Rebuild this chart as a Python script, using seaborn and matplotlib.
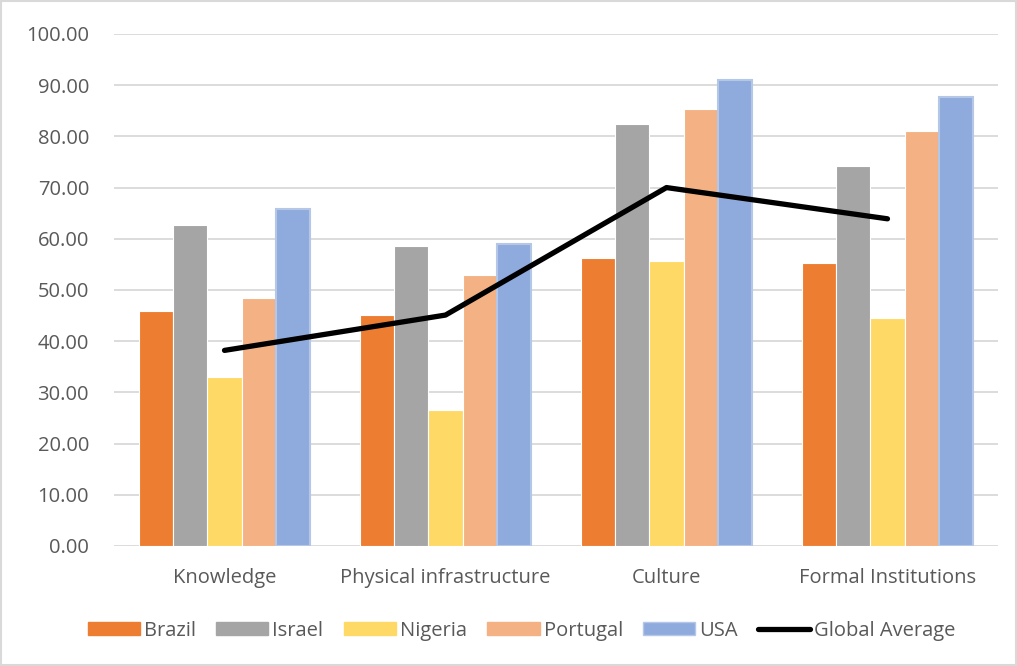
import numpy as np
import pandas as pd
import matplotlib
matplotlib.use("Agg")
import matplotlib.pyplot as plt
import matplotlib.ticker as mticker
from matplotlib.patches import Patch
from matplotlib.lines import Line2D
import seaborn as sns

# --- data ---
dimensions = ["Knowledge", "Physical infrastructure", "Culture", "Formal Institutions"]
countries = ["Brazil", "Israel", "Nigeria", "Portugal", "USA"]
brazil = [45.8, 45.1, 56.3, 55.3]
israel = [62.6, 58.6, 82.5, 74.2]
nigeria = [33.1, 26.5, 55.7, 44.6]
portugal = [48.4, 53.0, 85.4, 81.1]
usa = [65.8, 58.9, 91.1, 87.7]
global_avg = [38.2, 45.1, 70.0, 63.9]

palette = ["#ED7D31", "#A5A5A5", "#FFD966", "#F4B183", "#8FAADC"]
TEXT = "#595959"
GRID = "#D9D9D9"

sns.set_theme(style="white")
plt.rcParams["font.family"] = ["Open Sans", "DejaVu Sans"]

df = pd.DataFrame({
    "dimension": dimensions * len(countries),
    "country": np.repeat(countries, len(dimensions)),
    "score": brazil + israel + nigeria + portugal + usa,
})

fig = plt.figure(figsize=(10.17, 6.66), dpi=100)
ax = fig.add_axes([0.1121, 0.1802, 0.8692, 0.7688])

sns.barplot(data=df, x="dimension", y="score", hue="country", order=dimensions,
            hue_order=countries, palette=palette, width=0.77, gap=0,
            edgecolor="white", linewidth=0.8, saturation=1, legend=False, ax=ax)

# USA bars have a lighter blue outline
for container, name in zip(ax.containers, countries):
    if name == "USA":
        for bar in container:
            bar.set_edgecolor("#B4C7E7")
            bar.set_linewidth(1.5)

sns.pointplot(x=dimensions, y=global_avg, order=dimensions, color="black",
              markers="none", linewidth=3.8, ax=ax)
for line in ax.lines:
    line.set_solid_capstyle("round")
    line.set_solid_joinstyle("round")

ax.set_ylim(0, 100)
ax.set_xlim(-0.5, len(dimensions) - 0.5)
ax.yaxis.set_major_locator(mticker.MultipleLocator(10))
ax.yaxis.set_major_formatter(mticker.FormatStrFormatter("%.2f"))
ax.grid(True, axis="y", color=GRID, linewidth=1.3)
ax.set_axisbelow(True)
for spine in ax.spines.values():
    spine.set_visible(False)
ax.tick_params(axis="both", length=0, labelsize=14.5, colors=TEXT)
ax.tick_params(axis="y", pad=18)
ax.tick_params(axis="x", pad=16)
ax.set_xlabel("")
ax.set_ylabel("")

handles = [Patch(facecolor=c, edgecolor=("#B4C7E7" if n == "USA" else c)) for n, c in zip(countries, palette)]
handles.append(Line2D([0], [0], color="black", linewidth=3.8, solid_capstyle="round"))
labels = countries + ["Global Average"]
leg = fig.legend(handles, labels, loc="center", bbox_to_anchor=(0.513, 0.053), ncol=6,
                 frameon=False, fontsize=14.5, handlelength=2.6, handleheight=0.6,
                 handletextpad=0.2, columnspacing=1.0)
for t in leg.get_texts():
    t.set_color(TEXT)

# thin light-grey frame around the whole chart area
fig.patches.append(plt.Rectangle((0.001, 0.001), 0.998, 0.997, transform=fig.transFigure,
                                 fill=False, edgecolor=GRID, linewidth=1.5))

fig.savefig("out.png", dpi=100, facecolor="white")
